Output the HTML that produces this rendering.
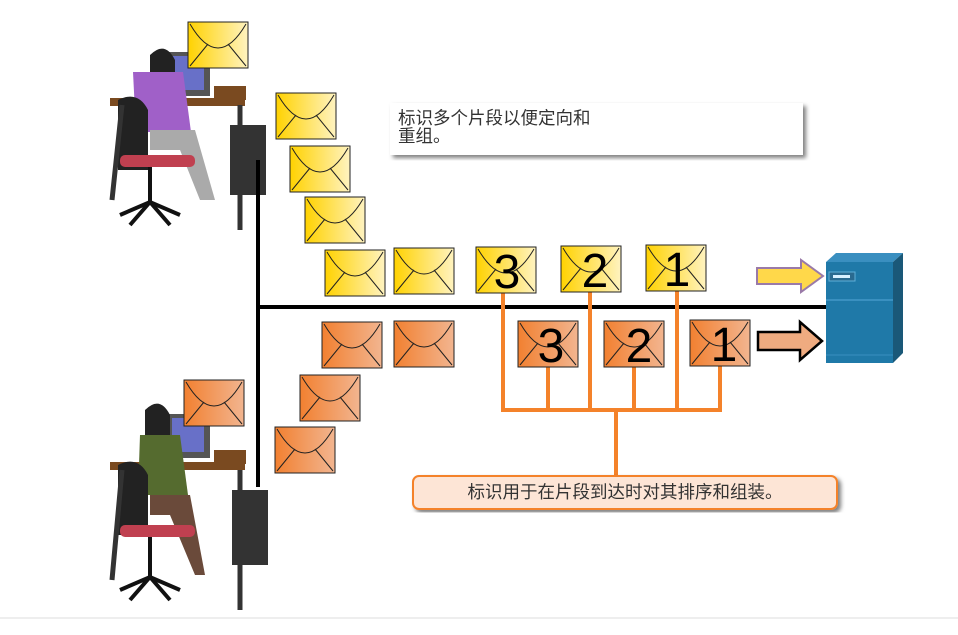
<!DOCTYPE html>
<html><head><meta charset="utf-8"><style>
body{margin:0;background:#fff;width:958px;height:630px;overflow:hidden;font-family:"Liberation Sans","Noto Sans CJK SC",sans-serif}
</style></head><body>
<svg width="958" height="630" viewBox="0 0 958 630" xmlns="http://www.w3.org/2000/svg">
<defs>
<linearGradient id="gy" x1="0" x2="1"><stop offset="0" stop-color="#ffd200"/><stop offset="1" stop-color="#fff3c0"/></linearGradient>
<linearGradient id="go" x1="0" x2="1"><stop offset="0" stop-color="#f28030"/><stop offset="1" stop-color="#f2b590"/></linearGradient>
<g id="env"><rect x="0" y="0" width="60" height="46" stroke="#222" stroke-width="1"/><path d="M2 2 Q30 50 58 2 M2 44 L20 22 M58 44 L40 22" fill="none" stroke="#222" stroke-width="1"/></g>
<filter id="sh"><feDropShadow dx="3" dy="3" stdDeviation="2" flood-opacity="0.5"/></filter>
</defs>
<line x1="0" y1="618" x2="958" y2="618" stroke="#ddd"/>
<g>
<rect x="110" y="98" width="135" height="8" fill="#7a4a20"/>
<rect x="168" y="52" width="42" height="44" fill="#555"/><rect x="172" y="56" width="32" height="34" fill="#6870c8"/>
<rect x="214" y="86" width="32" height="14" fill="#7a4a20"/>
<rect x="230" y="125" width="36" height="70" fill="#333"/>
<path d="M150 55 q15 -15 25 5 v15 h-25z" fill="#222"/>
<path d="M133 72 h50 l8 60 h-55z" fill="#a060c8"/>
<path d="M150 130 h45 l20 70 h-15 l-20 -50 h-30z" fill="#aaa"/>
<path d="M118 100 q20 -10 30 10 v60 h-30z" fill="#222"/>
<rect x="120" y="155" width="75" height="12" rx="5" fill="#c04050"/>
<path d="M150 167 v35 M120 215 l30 -13 l30 13 M130 225 l20 -23 l20 23" stroke="#111" stroke-width="4" fill="none"/>
<path d="M112 200 l10 -95 M240 230 l0 -125" stroke="#333" stroke-width="5"/>
</g>
<g>
<rect x="110" y="462" width="135" height="8" fill="#7a4a20"/>
<rect x="168" y="414" width="42" height="44" fill="#555"/><rect x="172" y="418" width="32" height="34" fill="#6870c8"/>
<rect x="214" y="450" width="32" height="14" fill="#7a4a20"/>
<rect x="232" y="490" width="36" height="75" fill="#333"/>
<path d="M145 410 q15 -15 25 5 v40 h-25z" fill="#222"/>
<path d="M140 435 h40 l8 60 h-50z" fill="#556b2f"/>
<path d="M150 495 h40 l15 80 h-10 l-25 -60 h-20z" fill="#6a4a3a"/>
<path d="M118 465 q20 -10 30 10 v60 h-30z" fill="#222"/>
<rect x="120" y="525" width="75" height="12" rx="5" fill="#c04050"/>
<path d="M150 537 v40 M120 590 l30 -13 l30 13 M130 600 l20 -23 l20 23" stroke="#111" stroke-width="4" fill="none"/>
<path d="M112 580 l10 -110 M240 610 l0 -140" stroke="#333" stroke-width="5"/>
</g>
<line x1="258" y1="160" x2="258" y2="487" stroke="#000" stroke-width="4"/>
<line x1="258" y1="307" x2="830" y2="307" stroke="#000" stroke-width="4"/>
<g stroke="#f4822a" stroke-width="4" fill="none">
<path d="M503 285 V410 M548 365 V410 M590 285 V410 M634 365 V410 M677 285 V410 M720 365 V410 M501 410 H722 M616 410 V477"/>
</g>
<g fill="url(#gy)">
<use href="#env" x="188" y="22"/><use href="#env" x="276" y="93"/><use href="#env" x="290" y="146"/><use href="#env" x="305" y="197"/><use href="#env" x="325" y="250"/><use href="#env" x="394" y="248"/><use href="#env" x="476" y="247"/><use href="#env" x="561" y="246"/><use href="#env" x="646" y="245"/>
</g>
<g fill="url(#go)">
<use href="#env" x="322" y="322"/><use href="#env" x="394" y="321"/><use href="#env" x="518" y="321"/><use href="#env" x="604" y="321"/><use href="#env" x="690" y="320"/><use href="#env" x="300" y="375"/><use href="#env" x="275" y="427"/><use href="#env" x="184" y="380"/>
</g>
<g font-family="Liberation Sans,sans-serif" font-size="48" fill="#000" text-anchor="middle">
<text x="507" y="288">3</text><text x="595" y="287">2</text><text x="677" y="286">1</text>
<text x="551" y="362">3</text><text x="639" y="362">2</text><text x="724" y="361">1</text>
</g>
<path d="M757 268 h44 v-8 l22 16 l-22 16 v-8 h-44z" fill="#ffd84a" stroke="#9a7aa8" stroke-width="2"/>
<path d="M758 332 h42 v-10 l22 19 l-22 19 v-10 h-42z" fill="#efab80" stroke="#000" stroke-width="2.5"/>
<path d="M826 262 l10 -9 h67 l-10 9z" fill="#3a8fc0"/>
<path d="M893 262 l10 -9 v100 l-10 10z" fill="#1a5878"/>
<rect x="826" y="262" width="67" height="101" fill="#1f79a8"/>
<line x1="826" y1="300" x2="893" y2="300" stroke="#3a90c0" stroke-width="2"/>
<line x1="826" y1="355" x2="893" y2="355" stroke="#3a90c0" stroke-width="1"/>
<rect x="829" y="272" width="26" height="9" fill="#2a6a90" stroke="#5fb0d8"/><rect x="833" y="275" width="17" height="3" fill="#d8f0ff"/>
<rect x="390" y="103" width="413" height="52" fill="#fff" filter="url(#sh)"/>
<text x="398" y="124" font-size="17.5" fill="#333">标识多个片段以便定向和</text>
<text x="398" y="142" font-size="17.5" fill="#333">重组。</text>
<rect x="413" y="476" width="424" height="33" rx="6" fill="#fde5d6" stroke="#f4822a" stroke-width="2" filter="url(#sh)"/>
<text x="625" y="498" font-size="17.5" fill="#333" text-anchor="middle">标识用于在片段到达时对其排序和组装。</text>
</svg>
</body></html>
